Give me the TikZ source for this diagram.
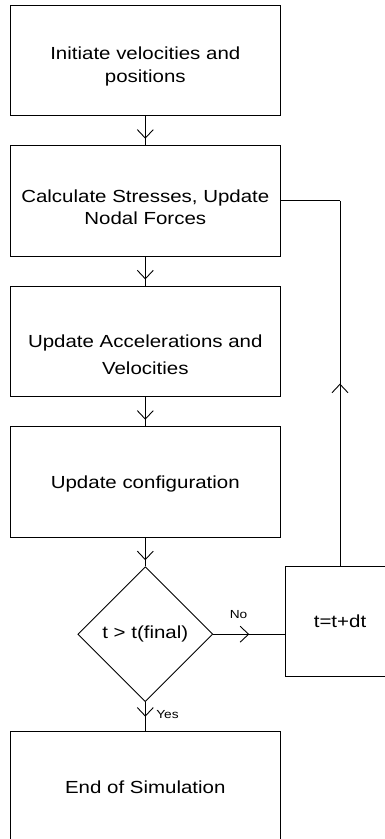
\documentclass[tikz,border=0pt]{standalone}
\usepackage{fontspec}
\setmainfont{Liberation Sans}[FakeStretch=1.17]
\usetikzlibrary{arrows.meta,decorations.markings,shapes.geometric}
\tikzset{
  vbarb/.tip={Straight Barb[length=8.5pt,width=16pt]},
  box/.style={draw=black,line width=0.9pt,fill=white,rectangle,inner sep=0pt,minimum width=269.3pt,minimum height=110.4pt},
  tbox/.style={draw=black,line width=0.9pt,fill=white,rectangle,inner sep=0pt,minimum width=108.6pt,minimum height=110pt,font=\fontsize{17.5}{21}\selectfont},
  dbox/.style={draw=black,line width=0.9pt,fill=white,diamond,aspect=1,inner sep=0pt,minimum width=135pt,minimum height=135pt,font=\fontsize{17.5}{21}\selectfont},
  txt/.style={inner sep=0pt,align=center},
  small/.style={inner sep=0pt,font=\fontsize{11.7}{14}\selectfont},
  conn/.style={draw=black,line width=0.9pt},
  tipat/.style={postaction={decorate,decoration={markings,mark=at position #1 with {\arrow{vbarb}}}}}
}
\begin{document}
\begin{tikzpicture}[x=1pt,y=-1pt]
\useasboundingbox (0,0) rectangle (384,839);
\fill[white] (0,0) rectangle (384,839);
% boxes
\node[box] (b1) at (145.3,60.7) {};
\node[box] (b2) at (145.3,200.9) {};
\node[box] (b3) at (145.3,341.6) {};
\node[box] (b4) at (145.3,481.9) {};
\node[box,font=\fontsize{17.5}{21}\selectfont] (b5) at (145.3,786.9) {End of Simulation};
\node[dbox] (dm) at (145.3,634.2) {t > t(final)};
\node[tbox] (tb) at (340,621.7) {t=t+dt};
% texts
\node[txt,font=\fontsize{17.5}{22.7}\selectfont] (t1) at (145.3,66.7) {Initiate velocities and\\positions};
\node[txt,font=\fontsize{17.5}{22.4}\selectfont] (t2) at (145.3,207.3) {Calculate Stresses, Update\\Nodal Forces};
\node[txt,font=\fontsize{17.5}{26.8}\selectfont] (t3) at (145.3,354.5) {Update Accelerations and\\Velocities};
\node[txt,font=\fontsize{17.5}{21}\selectfont] (t4) at (145.3,484) {Update configuration};
% connectors
\draw[conn,tipat=-6.5pt] (b1.south) -- (b2.north);
\draw[conn,tipat=-6.5pt] (b2.south) -- (b3.north);
\draw[conn,tipat=-6.5pt] (b3.south) -- (b4.north);
\draw[conn,tipat=-6pt] (b4.south) -- (dm.north);
\coordinate (noend) at (dm.east -| tb.west);
\draw[conn,tipat=0.5] (dm.east) -- (noend);
\draw[conn,tipat=0.5] (dm.south) -- (b5.north);
\coordinate (fb) at (tb.north |- b2.east);
\draw[conn,tipat=0.5] (tb.north) -- (fb);
\draw[conn] (fb) -- (b2.east);
% labels
\node[small] (no) at (238.5,615) {No};
\node[small] (yes) at (167.5,714.5) {Yes};
\end{tikzpicture}
\end{document}
